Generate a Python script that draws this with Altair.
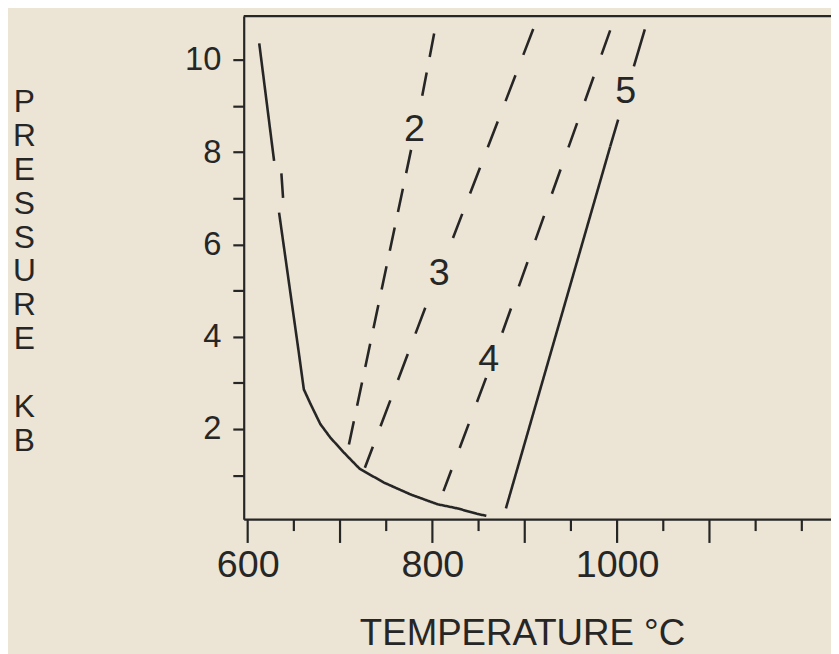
import altair as alt
import pandas as pd

# ---- data ----
# main (solidus-like) curve, drawn in three pieces (solid, short dash, solid)
curve_a_t = [612.5, 628.6]
curve_a_p = [10.36, 7.81]
curve_b_t = [636.5, 638.3]
curve_b_p = [7.54, 7.01]
curve_c_t = [634.0, 655.4, 660.8, 667.9, 678.6, 689.3, 703.7, 721.2, 747.5, 776.7, 805.6, 827.3, 848.8, 858.4]
curve_c_p = [6.69, 3.65, 2.86, 2.55, 2.11, 1.82, 1.50, 1.14, 0.84, 0.58, 0.37, 0.28, 0.16, 0.12]

# numbered dashed lines (top -> bottom), each broken where its number sits
line2_top_t = [801.9, 786.6]
line2_top_p = [10.57, 8.97]
line2_bot_t = [776.9, 708.0]
line2_bot_p = [8.05, 1.51]
line3_top_t = [909.2, 822.3]
line3_top_p = [10.67, 6.14]
line3_bot_t = [792.3, 726.9]
line3_bot_p = [4.63, 1.16]
line4_top_t = [992.5, 875.6]
line4_top_p = [10.64, 4.08]
line4_bot_t = [858.1, 812.0]
line4_bot_p = [3.11, 0.655]
line5_top_t = [1030.0, 992.5]
line5_top_p = [10.66, 8.12]
line5_bot_t = [992.5, 879.6]
line5_bot_p = [8.12, 0.28]

# curve labels
label_text = ["2", "3", "4", "5"]
label_t = [780.5, 807.3, 860.9, 1009.3]
label_p = [8.48, 5.36, 3.50, 9.30]

x_major_ticks = [600, 700, 800, 900, 1000, 1100]
x_minor_ticks = [650, 750, 850, 950, 1050, 1150, 1200]
x_labels = [600, 800, 1000]
y_ticks = [1, 2, 3, 4, 5, 6, 7, 8, 9, 10]
y_labels = [2, 4, 6, 8, 10]

x_domain = [595.7, 1231.6]
y_domain = [0.047, 10.95]

PLOT_W, PLOT_H = 593, 508

# ---- build table ----
pieces = [
    ("curve_a", "solid", curve_a_t, curve_a_p),
    ("curve_b", "solid", curve_b_t, curve_b_p),
    ("curve_c", "solid", curve_c_t, curve_c_p),
    ("line2_top", "dash2", line2_top_t, line2_top_p),
    ("line2_bot", "dash2", line2_bot_t, line2_bot_p),
    ("line3_top", "dash3", line3_top_t, line3_top_p),
    ("line3_bot", "dash3", line3_bot_t, line3_bot_p),
    ("line4_top", "dash4", line4_top_t, line4_top_p),
    ("line4_bot", "dash4", line4_bot_t, line4_bot_p),
    ("line5_top", "dash5", line5_top_t, line5_top_p),
    ("line5_bot", "solid", line5_bot_t, line5_bot_p),
]
rows = []
for name, style, ts, ps in pieces:
    for i, (t, p) in enumerate(zip(ts, ps)):
        rows.append({"piece": name, "style": style, "seq": i, "T": t, "P": p})
df = pd.DataFrame(rows)

labels_df = pd.DataFrame({"txt": label_text, "T": label_t, "P": label_p})
frame_df = pd.DataFrame({"T": [x_domain[0]], "T2": [x_domain[1]], "P": [y_domain[1]]})
major_df = pd.DataFrame({"T": x_major_ticks})
minor_df = pd.DataFrame({"T": x_minor_ticks})

ink = "#262626"
font = "Liberation Sans"

x_scale = alt.Scale(domain=x_domain, nice=False, zero=False)
y_scale = alt.Scale(domain=y_domain, nice=False, zero=False)

y_lab_expr = "indexof([" + ",".join(str(v) for v in y_labels) + "], datum.value) >= 0 ? datum.label : ''"

x_axis = alt.Axis(
    values=x_labels,
    format="d",
    grid=False,
    ticks=False,
    tickSize=0,
    domainColor=ink,
    domainWidth=2.2,
    labelFont=font,
    labelFontSize=38,
    labelColor=ink,
    labelPadding=28,
    labelBaseline="top",
    labelFlush=False,
    labelOverlap=False,
    title="TEMPERATURE °C",
    titleFont=font,
    titleFontSize=37,
    titleFontWeight="normal",
    titleColor=ink,
    titleAnchor="start",
    titleAlign="center",
    titleBaseline="alphabetic",
    titleX=281,
    titleY=127,
)

y_axis = alt.Axis(
    values=y_ticks,
    labelExpr=y_lab_expr,
    grid=False,
    tickSize=11,
    tickWidth=2.2,
    tickColor=ink,
    domainColor=ink,
    domainWidth=2.2,
    labelFont=font,
    labelFontSize=33,
    labelColor=ink,
    labelPadding=12,
    labelOverlap=False,
    labelFlush=False,
    title=["P", "R", "E", "S", "S", "U", "R", "E", "\u2800", "K", "B"],
    titleFont=font,
    titleFontSize=32,
    titleFontWeight="normal",
    titleColor=ink,
    titleAngle=0,
    titleAlign="center",
    titleBaseline="top",
    titleLineHeight=34.3,
    titleX=-222,
    titleY=71,
)

lines = alt.Chart(df).mark_line(strokeWidth=2.6, color=ink, strokeCap="butt").encode(
    x=alt.X("T:Q", scale=x_scale, axis=x_axis),
    y=alt.Y("P:Q", scale=y_scale, axis=y_axis),
    detail="piece:N",
    order=alt.Order("seq:Q"),
    strokeDash=alt.StrokeDash(
        "style:N",
        scale=alt.Scale(
            domain=["solid", "dash2", "dash3", "dash4", "dash5"],
            range=[[1, 0], [24, 16], [28, 22], [26, 23.7], [39, 56]],
        ),
        legend=None,
    ),
)

texts = alt.Chart(labels_df).mark_text(
    font=font, fontSize=38, color=ink, align="center", baseline="middle"
).encode(
    x=alt.X("T:Q", scale=x_scale),
    y=alt.Y("P:Q", scale=y_scale),
    text="txt:N",
)

frame = alt.Chart(frame_df).mark_rule(color=ink, strokeWidth=2.2).encode(
    x=alt.X("T:Q", scale=x_scale), x2="T2:Q", y=alt.Y("P:Q", scale=y_scale)
)

# x-axis tick marks: long at the hundreds, short at the fifties
major_ticks = alt.Chart(major_df).mark_rule(color=ink, strokeWidth=2.2).encode(
    x=alt.X("T:Q", scale=x_scale), y=alt.value(PLOT_H), y2=alt.value(PLOT_H + 24)
)
minor_ticks = alt.Chart(minor_df).mark_rule(color=ink, strokeWidth=2.2).encode(
    x=alt.X("T:Q", scale=x_scale), y=alt.value(PLOT_H), y2=alt.value(PLOT_H + 12)
)

chart = (
    alt.layer(lines, texts, frame, major_ticks, minor_ticks)
    .properties(
        width=PLOT_W,
        height=PLOT_H,
        autosize=alt.AutoSizeParams(type="none"),
        padding={"left": 238, "top": 5, "right": 0, "bottom": 133},
        background="#ece4d4",
    )
    .configure_view(stroke=None)
)

chart.save("out.html", embed_options={"renderer": "svg", "actions": False})
